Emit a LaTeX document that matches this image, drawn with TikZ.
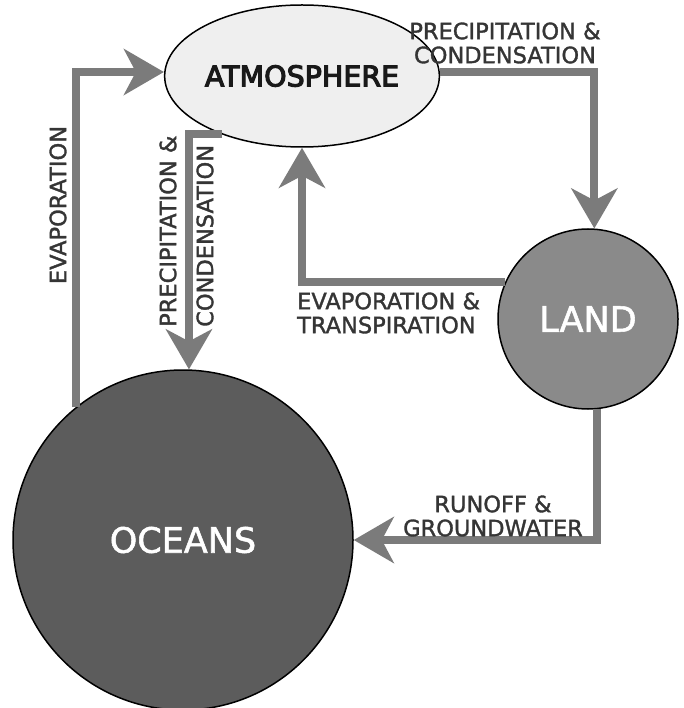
\documentclass[tikz,border=0pt]{standalone}
\usepackage{fontspec}
\setmainfont{DejaVu Sans}
\newfontfamily\heavyfont[FakeBold=4]{DejaVu Sans}
\newfontfamily\flowfont[FakeBold=1.5]{DejaVu Sans}
\usetikzlibrary{shapes.geometric, arrows.meta}

\definecolor{flowgray}{HTML}{7B7B7B}
\definecolor{textgray}{HTML}{353535}
\definecolor{atmfill}{HTML}{EFEFEF}
\definecolor{landfill}{HTML}{8A8A8A}
\definecolor{oceanfill}{HTML}{5C5C5C}

\begin{document}
\begin{tikzpicture}[x=1pt, y=-1pt,
    flow/.style={line width=8pt, draw=flowgray, -{Stealth[length=40pt, width=46pt, inset=12pt]}},
    flowtext/.style={text=textgray, font=\flowfont\fontsize{22.5}{24}\selectfont, inner sep=0pt},
    reservoir/.style={draw=black, line width=1.5pt, inner sep=0pt}]
    \useasboundingbox (0,0) rectangle (683,708);
    %
    \node[reservoir, ellipse, fill=atmfill, minimum width=214pt, minimum height=142pt,
          text=black!90, font=\heavyfont\fontsize{28.5}{28}\selectfont] (atm) at (302,76) {ATMOSPHERE};
    \node[reservoir, circle, fill=landfill, minimum size=180pt,
          text=white, font=\flowfont\fontsize{35}{35}\selectfont] (land) at (588,319) {LAND};
    \node[reservoir, circle, fill=oceanfill, minimum size=340pt,
          text=white, font=\flowfont\fontsize{35}{35}\selectfont] (ocean) at (183,540) {OCEANS};
    %
    \draw[flow] (ocean.129.5) |- ([yshift=4pt]atm.west);
    \draw[flow] (atm.216) -| (ocean.88.5);
    \draw[flow] ([yshift=4pt]atm.east) -| (land.86);
    \draw[flow] (land.156) -| (atm.south);
    \draw[flow] (land.-84) |- (ocean.east);
    %
    \node[flowtext, rotate=90] (evapLbl) at (58,205) {EVAPORATION};
    \node[flowtext, rotate=90, anchor=west] (precipLbl) at (168,327) {PRECIPITATION \&};
    \node[flowtext, rotate=90, anchor=west] (condLbl) at (205,327) {CONDENSATION};
    \node[flowtext, align=center] (precipLandLbl) at (505,43) {PRECIPITATION \&\\CONDENSATION};
    \node[flowtext, align=left, anchor=west] (transpLbl) at (297,313) {EVAPORATION \&\\TRANSPIRATION};
    \node[flowtext, align=center] (runoffLbl) at (493,516) {RUNOFF \&\\GROUNDWATER};
\end{tikzpicture}
\end{document}
